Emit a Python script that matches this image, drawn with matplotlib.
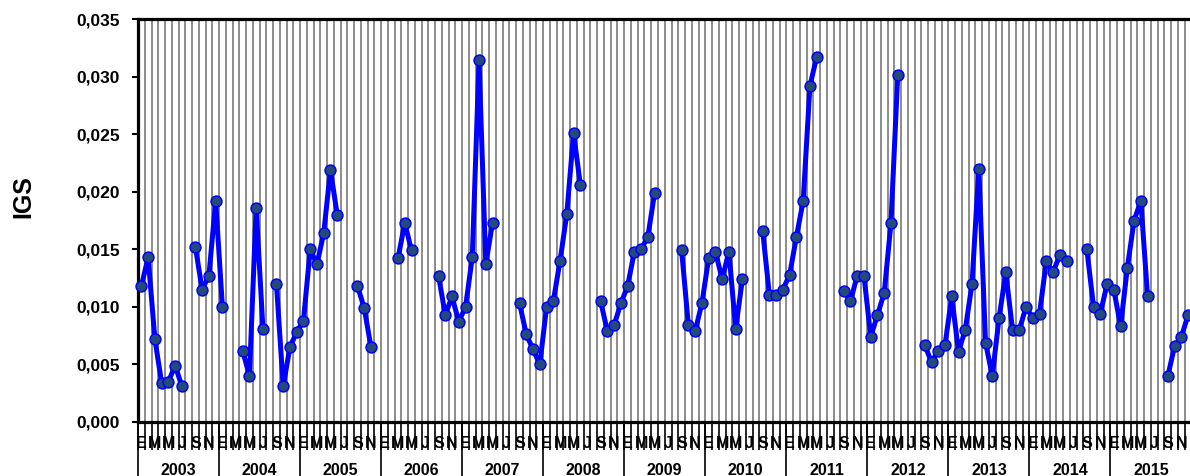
import numpy as np
import matplotlib
matplotlib.use("Agg")
import matplotlib.pyplot as plt
from matplotlib.ticker import FuncFormatter, FixedLocator
from matplotlib.transforms import blended_transform_factory

# Monthly IGS values, one list per year (None = no data that month)
years = [2003, 2004, 2005, 2006, 2007, 2008, 2009, 2010, 2011, 2012, 2013, 2014, 2015]
month_letters = ["E", "F", "M", "A", "M", "J", "J", "A", "S", "O", "N", "D"]

igs_2003 = [0.0118, 0.0143, 0.0072, 0.0034, 0.0035, 0.0049, 0.0031, None, 0.0152, 0.0115, 0.0127, 0.0192]
igs_2004 = [0.0100, None, None, 0.0062, 0.0040, 0.0186, 0.0081, None, 0.0120, 0.0031, 0.0065, 0.0078]
igs_2005 = [0.0088, 0.0150, 0.0137, 0.0164, 0.0219, 0.0180, None, None, 0.0118, 0.0099, 0.0065, None]
igs_2006 = [None, None, 0.0142, 0.0173, 0.0149, None, None, None, 0.0127, 0.0093, 0.0109, 0.0087]
igs_2007 = [0.0100, 0.0143, 0.0314, 0.0137, 0.0173, None, None, None, 0.0103, 0.0076, 0.0063, 0.0050]
igs_2008 = [0.0100, 0.0105, 0.0140, 0.0181, 0.0251, 0.0206, None, None, 0.0105, 0.0079, 0.0084, 0.0103]
igs_2009 = [0.0118, 0.0148, 0.0150, 0.0161, 0.0199, None, None, None, 0.0149, 0.0084, 0.0079, 0.0103]
igs_2010 = [0.0142, 0.0148, 0.0124, 0.0148, 0.0081, 0.0124, None, None, 0.0166, 0.0110, 0.0110, 0.0115]
igs_2011 = [0.0128, 0.0161, 0.0192, 0.0292, 0.0317, None, None, None, 0.0114, 0.0105, 0.0127, 0.0127]
igs_2012 = [0.0074, 0.0093, 0.0112, 0.0173, 0.0301, None, None, None, 0.0067, 0.0052, 0.0062, 0.0067]
igs_2013 = [0.0109, 0.0061, 0.0080, 0.0120, 0.0220, 0.0069, 0.0040, 0.0090, 0.0130, 0.0080, 0.0080, 0.0100]
igs_2014 = [0.0090, 0.0094, 0.0140, 0.0130, 0.0145, 0.0140, None, None, 0.0150, 0.0100, 0.0094, 0.0120]
igs_2015 = [0.0115, 0.0083, 0.0134, 0.0175, 0.0192, 0.0109, None, None, 0.0040, 0.0066, 0.0074, 0.0093]

yearly = [igs_2003, igs_2004, igs_2005, igs_2006, igs_2007, igs_2008, igs_2009,
          igs_2010, igs_2011, igs_2012, igs_2013, igs_2014, igs_2015]
values = np.array([np.nan if v is None else v for yr in yearly for v in yr], dtype=float)
n = len(values)
x = np.arange(n)

plt.rcParams["font.family"] = ["Liberation Sans", "DejaVu Sans"]
plt.rcParams["font.weight"] = "bold"

W, H = 1190, 476
fig = plt.figure(figsize=(W / 100, H / 100), dpi=100)
left_px, right_px, top_px, bottom_px = 138, 1191.5, 19, 422
ax = fig.add_axes([left_px / W, 1 - bottom_px / H,
                   (right_px - left_px) / W, (bottom_px - top_px) / H])

# vertical gridlines on every month boundary
for b in np.arange(n) + 0.5:
    ax.axvline(b, color="#8c8c8c", lw=1.4, zorder=1)

ax.plot(x, values, color="#0000ff", lw=3.6, zorder=3,
        marker="o", markersize=7.8, markerfacecolor="#244a7c",
        markeredgecolor="#0000ff", markeredgewidth=1.1, clip_on=False)

ax.set_xlim(-0.5, n - 0.5)
ax.set_ylim(0, 0.035)
ax.set_yticks(np.arange(0, 0.0351, 0.005))
ax.yaxis.set_major_formatter(FuncFormatter(lambda v, p: f"{v:.3f}".replace(".", ",")))
ax.tick_params(axis="y", direction="out", length=4, width=1.5, pad=9,
               labelsize=12.5, colors="black")

for side in ("left", "top", "bottom"):
    ax.spines[side].set_linewidth(2.3)
ax.spines["right"].set_visible(False)

# month separators below the axis, letters for every second month
ax.xaxis.set_major_locator(FixedLocator(np.arange(-0.5, n, 1.0)))
ax.xaxis.set_major_formatter(FuncFormatter(lambda v, p: ""))
ax.tick_params(axis="x", which="major", direction="out", length=20, width=1.2)

trans = blended_transform_factory(ax.transData, ax.transAxes)
ax_h = bottom_px - top_px
for i in range(0, n, 2):
    ax.text(i, -(443 - bottom_px) / ax_h, month_letters[i % 12], transform=trans,
            ha="center", va="center", fontsize=11.5, fontweight="bold")

# year row: separators and labels
for k, yr in enumerate(years):
    start = k * 12 - 0.5
    ax.plot([start, start], [0, -(H - bottom_px + 2) / ax_h], transform=trans,
            color="black", lw=1.2, clip_on=False)
    ax.text(k * 12 + 5.5, -(475 - bottom_px) / ax_h, str(yr), transform=trans,
            ha="center", va="baseline", fontsize=11.5, fontweight="bold")

ax.set_ylabel("IGS", fontsize=18, fontweight="bold")
ax.yaxis.set_label_coords(-(left_px - 35) / (right_px - left_px), 0.56)

fig.savefig("out.png", dpi=100)
